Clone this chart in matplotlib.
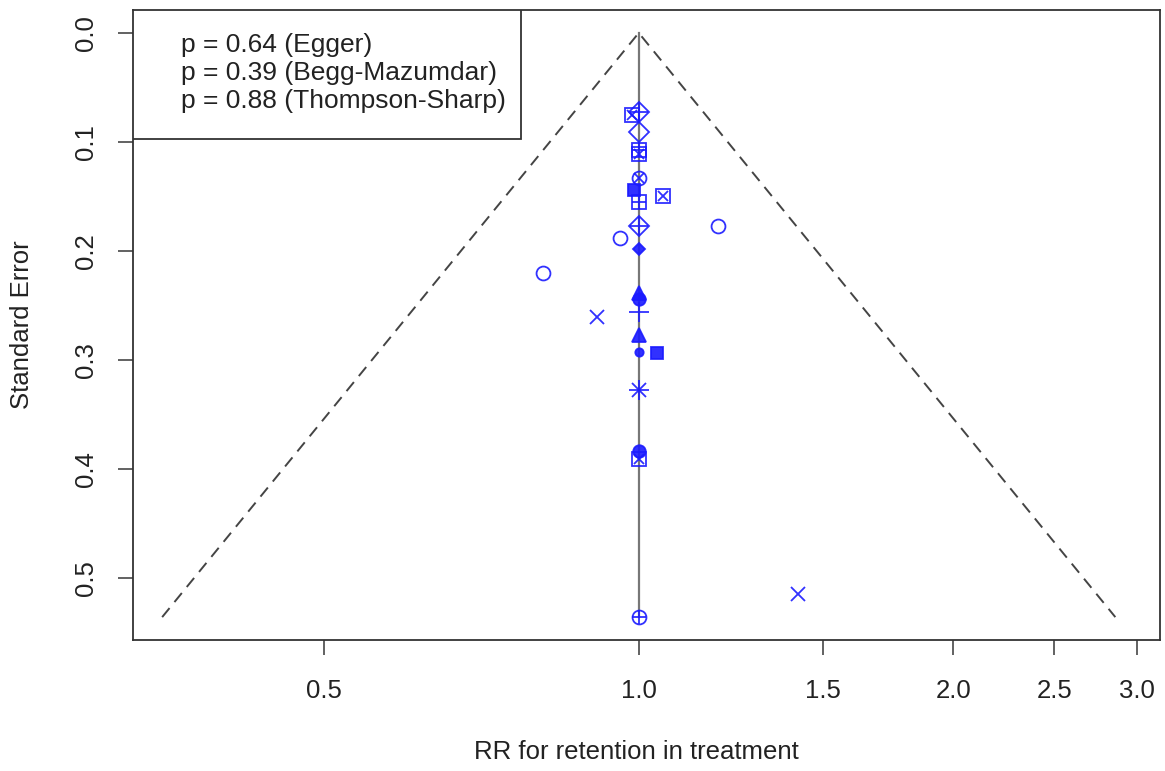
import numpy as np
import matplotlib
matplotlib.use("Agg")
import matplotlib.pyplot as plt
from matplotlib.patches import Rectangle

plt.rcParams['font.family'] = ['Liberation Sans', 'DejaVu Sans']

# === DATA ===
# study estimates
rr = [0.986, 1.000, 1.000, 1.000, 1.000, 1.000, 0.989, 1.000, 1.055, 1.000,
      0.959, 1.191, 0.810, 1.000, 1.000, 1.000, 1.000, 0.913, 1.000, 1.000,
      1.041, 1.000, 1.000, 1.000, 1.000, 1.422]
se = [0.075, 0.073, 0.091, 0.107, 0.111, 0.133, 0.144, 0.155, 0.150, 0.177,
      0.188, 0.177, 0.220, 0.198, 0.239, 0.244, 0.256, 0.261, 0.277, 0.293,
      0.294, 0.328, 0.384, 0.391, 0.536, 0.515]
kind = ['sqx', 'dplus', 'diamond', 'splus', 'sqx', 'cx', 'fsquare', 'splus', 'sqx', 'dplus',
        'circle', 'circle', 'circle', 'fdiamond', 'ftriangle', 'fcircle', 'plus', 'x', 'ftriangle', 'fdot',
        'fsquare', 'star', 'fcircle', 'sqx', 'cplus', 'x']

xticks = [0.5, 1.0, 1.5, 2.0, 2.5, 3.0]
yticks = [0.0, 0.1, 0.2, 0.3, 0.4, 0.5]
pvals = ["p = 0.64 (Egger)", "p = 0.39 (Begg-Mazumdar)", "p = 0.88 (Thompson-Sharp)"]

# R pch-like symbols built from matplotlib markers: (marker, size, filled)
styles = {
    'circle':    [('o', 10, False)],
    'cx':        [('o', 10, False), ('x', 7, False)],
    'cplus':     [('o', 10, False), ('+', 10, False)],
    'sqx':       [('s', 10, False), ('x', 7, False)],
    'splus':     [('s', 10, False), ('+', 10, False)],
    'diamond':   [('D', 10, False)],
    'dplus':     [('D', 10, False), ('+', 13, False)],
    'fsquare':   [('s', 9, True)],
    'fcircle':   [('o', 9, True)],
    'fdot':      [('o', 6, True)],
    'fdiamond':  [('D', 6, True)],
    'ftriangle': [('^', 10, True)],
    'plus':      [('+', 14, False)],
    'x':         [('x', 10, False)],
    'star':      [('+', 14, False), ('x', 10, False)],
}

blue = '#1a1aff'
txt = '#222222'

fig = plt.figure(figsize=(11.65, 7.71), dpi=100)
ax = fig.add_axes([0.1142, 0.1699, 0.8815, 0.8171])

se_max = max(se)
z = 1.96
# funnel (pseudo 95% limits) and vertical line at RR = 1
ax.plot([np.exp(-z * se_max), 1.0, np.exp(z * se_max)], [se_max, 0.0, se_max],
        color='#444444', lw=1.4, dashes=(6, 4))
ax.plot([1.0, 1.0], [0.0, se_max], color='#777777', lw=1.6)

for x, y, k in zip(rr, se, kind):
    for m, s, filled in styles[k]:
        ax.plot(x, y, marker=m, markersize=s, linestyle='none',
                markeredgecolor=blue, markerfacecolor=blue if filled else 'none',
                markeredgewidth=1.3, alpha=0.9)

ax.set_xscale('log')
ax.set_xlim(0.328, 3.155)
ax.set_ylim(0.557, -0.021)
ax.set_xticks(xticks)
ax.set_xticklabels([f"{t:.1f}" for t in xticks])
ax.minorticks_off()
ax.set_yticks(yticks)
ax.set_yticklabels([f"{t:.1f}" for t in yticks], rotation=90, va='center')

ax.tick_params(axis='both', length=11, width=1.3, color='#555555', labelsize=18.5, labelcolor=txt)
ax.tick_params(axis='x', pad=17)
ax.tick_params(axis='y', pad=14)
for sp in ax.spines.values():
    sp.set_color('#333333')
    sp.set_linewidth(1.3)

ax.set_xlabel("RR for retention in treatment", fontsize=18.5, color=txt, va='center')
ax.xaxis.set_label_coords(0.49, -0.178)
ax.set_ylabel("Standard Error", fontsize=18.5, color=txt, va='center')
ax.yaxis.set_label_coords(-0.108, 0.5)

# legend-like box with test p-values (R topleft legend)
ax.add_patch(Rectangle((0.0, 0.795), 0.378, 0.205, transform=ax.transAxes,
                       facecolor='white', edgecolor='#333333', lw=1.3, zorder=5))
for i, t in enumerate(pvals):
    ax.text(0.047, 0.945 - i * 0.0445, t, transform=ax.transAxes, fontsize=19,
            color=txt, va='center', ha='left', zorder=6)

fig.savefig("out.png", dpi=100)
